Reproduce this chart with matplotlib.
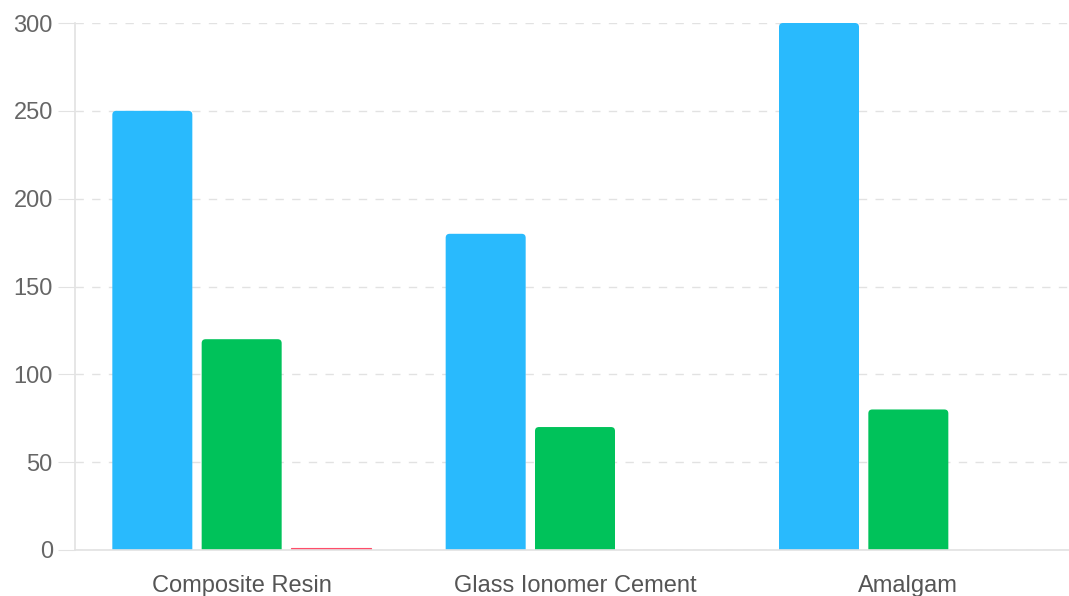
import numpy as np
import matplotlib.pyplot as plt
from matplotlib.patches import FancyBboxPatch

plt.rcParams['font.family'] = ['Liberation Sans', 'DejaVu Sans']

materials = ['Composite Resin', 'Glass Ionomer Cement', 'Amalgam']
series_a = [250, 180, 300]
series_b = [120, 70, 80]
series_c = [1, 0, 0]
colors = ['#29BAFD', '#00C25A', '#FF4D6A']

W, H = 1069, 596
left, right, top, bottom = 75, 1075, 23, 550
fig = plt.figure(figsize=(W / 100, H / 100), dpi=100)
ax = fig.add_axes([left / W, 1 - bottom / H, (right - left) / W, (bottom - top) / H])

x = np.arange(len(materials))
offsets = [-0.268, 0.0, 0.268]
width = 0.24

ax.set_xlim(-0.5, 2.5)
ax.set_ylim(0, 300)

# px per data unit, used so the rounded corners stay circular
px_x = (right - left) / 3.0
px_y = (bottom - top) / 300.0
r = 4 / px_x
aspect = (4 / px_y) / r

for vals, off, col in zip([series_a, series_b, series_c], offsets, colors):
    for xi, v in zip(x, vals):
        if v <= 0:
            continue
        if v < 3:
            ax.bar(xi + off, v, width, color=col, edgecolor=col, linewidth=0.8)
            continue
        p = FancyBboxPatch((xi + off - width / 2, -5), width, v + 5,
                           boxstyle=f"round,pad=0,rounding_size={r}",
                           mutation_aspect=aspect, facecolor=col,
                           edgecolor='none', clip_on=True)
        ax.add_patch(p)

ax.set_yticks(np.arange(0, 301, 50))
ax.set_xticks(x)
ax.set_xticklabels(materials)
ax.yaxis.grid(True, color='#e2e2e2', linestyle=(0, (6, 6)), linewidth=1)
ax.set_axisbelow(True)

for s in ['top', 'right']:
    ax.spines[s].set_visible(False)
for s in ['left', 'bottom']:
    ax.spines[s].set_color('#e2e2e2')
    ax.spines[s].set_linewidth(1.2)

ax.tick_params(axis='y', length=12, color='#e2e2e2', labelcolor='#666666',
               labelsize=17, pad=4)
ax.tick_params(axis='x', length=0, labelcolor='#555555', labelsize=17, pad=18)

fig.savefig('out.png', dpi=100)
